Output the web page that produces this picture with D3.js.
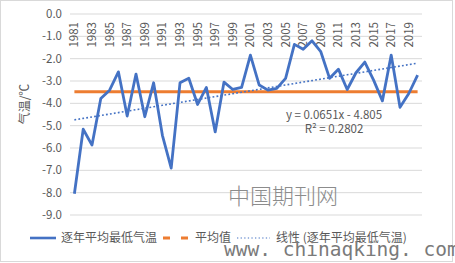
<!DOCTYPE html>
<html>
<head>
<meta charset="utf-8">
<script src="https://cdn.jsdelivr.net/npm/d3@7"></script>
<style>
  body { margin: 0; background: #fff; }
  text { font-family: "Noto Sans CJK SC", "Open Sans", sans-serif; }
</style>
</head>
<body>
<div id="chart"></div>
<script>
var width = 455;
var height = 263;

// data
var years = d3.range(1981, 2021);
var tminAvg = [-8.05, -5.16, -5.87, -3.78, -3.41, -2.59, -4.57, -2.69, -4.6, -3.08,
               -5.43, -6.9, -3.08, -2.88, -4.05, -3.29, -5.28, -3.05, -3.38, -3.29,
               -1.84, -3.18, -3.41, -3.33, -2.88, -1.36, -1.58, -1.2, -1.69, -2.88,
               -2.47, -3.38, -2.63, -2.15, -2.96, -3.89, -1.84, -4.18, -3.56, -2.74];
var meanValue = -3.48;
var trendSlope = 0.0651;
var trendIntercept = -4.805;
var yTicks = [0, -1, -2, -3, -4, -5, -6, -7, -8, -9];
var legendNames = ["逐年平均最低气温", "平均值", "线性 (逐年平均最低气温)"];

var svg = d3.select("#chart")
  .append("svg")
  .attr("width", width)
  .attr("height", height);

svg.append("rect")
  .attr("x", 0.5).attr("y", 0.5)
  .attr("width", width - 3).attr("height", height - 2)
  .attr("fill", "#fff")
  .attr("stroke", "#d9d9d9");

var x = d3.scaleBand().domain(years).range([70, 422]);
var y = d3.scaleLinear().domain([0, -9]).range([14, 215]);

// gridlines
svg.append("g").selectAll("line")
  .data(yTicks)
  .enter().append("line")
  .attr("x1", 70).attr("x2", 422)
  .attr("y1", d => y(d)).attr("y2", d => y(d))
  .attr("stroke", "#d9d9d9")
  .attr("stroke-width", 1);

// y labels
svg.append("g").selectAll("text")
  .data(yTicks)
  .enter().append("text")
  .attr("x", 62)
  .attr("y", d => y(d))
  .attr("dy", "0.35em")
  .attr("text-anchor", "end")
  .attr("fill", "#595959")
  .style("font-size", "11.5px")
  .text(d => d3.format(".1f")(d).replace("−", "-"));

// year labels, every other one, rotated
svg.append("g").selectAll("text")
  .data(years.filter((d, i) => i % 2 == 0))
  .enter().append("text")
  .attr("transform", d => "translate(" + (x(d) + x.bandwidth() / 2) + ",22) rotate(-90)")
  .attr("dy", "0.35em")
  .attr("text-anchor", "end")
  .attr("fill", "#595959")
  .style("font-size", "11.5px")
  .text(d => d);

// axis title
svg.append("text")
  .attr("transform", "translate(25,104) rotate(-90)")
  .attr("text-anchor", "middle")
  .attr("dy", "0.35em")
  .attr("fill", "#595959")
  .style("font-size", "12px")
  .text("气温/℃");

var cx = d => x(d) + x.bandwidth() / 2;

// mean line
svg.append("line")
  .attr("x1", cx(years[0])).attr("x2", cx(years[years.length - 1]))
  .attr("y1", y(meanValue)).attr("y2", y(meanValue))
  .attr("stroke", "#ED7D31")
  .attr("stroke-width", 3);

// trend line
var trendLine = d3.line()
  .x(d => cx(d))
  .y((d, i) => y(trendSlope * (i + 1) + trendIntercept));
svg.append("path")
  .datum(years)
  .attr("d", trendLine)
  .attr("fill", "none")
  .attr("stroke", "#4472C4")
  .attr("stroke-width", 1.6)
  .attr("stroke-dasharray", "1.8,2.2");

// data line
var line = d3.line()
  .x((d, i) => cx(years[i]))
  .y(d => y(d));
svg.append("path")
  .datum(tminAvg)
  .attr("d", line)
  .attr("fill", "none")
  .attr("stroke", "#4472C4")
  .attr("stroke-width", 2.8)
  .attr("stroke-linejoin", "round");

// equation
svg.append("text")
  .attr("x", 334).attr("y", 119)
  .attr("text-anchor", "middle")
  .attr("fill", "#595959")
  .style("font-size", "11.5px")
  .text("y = " + trendSlope + "x - " + Math.abs(trendIntercept));
svg.append("text")
  .attr("x", 334).attr("y", 133)
  .attr("text-anchor", "middle")
  .attr("fill", "#595959")
  .style("font-size", "11.5px")
  .text("R² = 0.2802");

// legend
var lg = svg.append("g");
lg.append("line").attr("x1", 30).attr("x2", 56).attr("y1", 238).attr("y2", 238)
  .attr("stroke", "#4472C4").attr("stroke-width", 2.6);
lg.append("text").attr("x", 61).attr("y", 238).attr("dy", "0.35em")
  .attr("fill", "#595959").style("font-size", "12px").text(legendNames[0]);
lg.append("line").attr("x1", 163).attr("x2", 191).attr("y1", 238).attr("y2", 238)
  .attr("stroke", "#ED7D31").attr("stroke-width", 3).attr("stroke-dasharray", "7,11");
lg.append("text").attr("x", 195).attr("y", 238).attr("dy", "0.35em")
  .attr("fill", "#595959").style("font-size", "12px").text(legendNames[1]);
lg.append("line").attr("x1", 237).attr("x2", 270).attr("y1", 238).attr("y2", 238)
  .attr("stroke", "#4472C4").attr("stroke-width", 1.2).attr("stroke-dasharray", "1.3,2.3");
lg.append("text").attr("x", 276).attr("y", 238).attr("dy", "0.35em")
  .attr("fill", "#595959").style("font-size", "12px").text(legendNames[2]);

// watermarks
svg.append("text")
  .attr("x", 228).attr("y", 204)
  .attr("fill", "#8c8c8c")
  .style("font-size", "22px")
  .style("font-weight", "300")
  .text("中国期刊网");
svg.append("text")
  .attr("x", 224).attr("y", 256)
  .attr("fill", "#7a7a7a")
  .style("font-family", "'DejaVu Sans Mono', monospace")
  .style("font-size", "19.5px")
  .text("www. chinaqking. com");
</script>
</body>
</html>
